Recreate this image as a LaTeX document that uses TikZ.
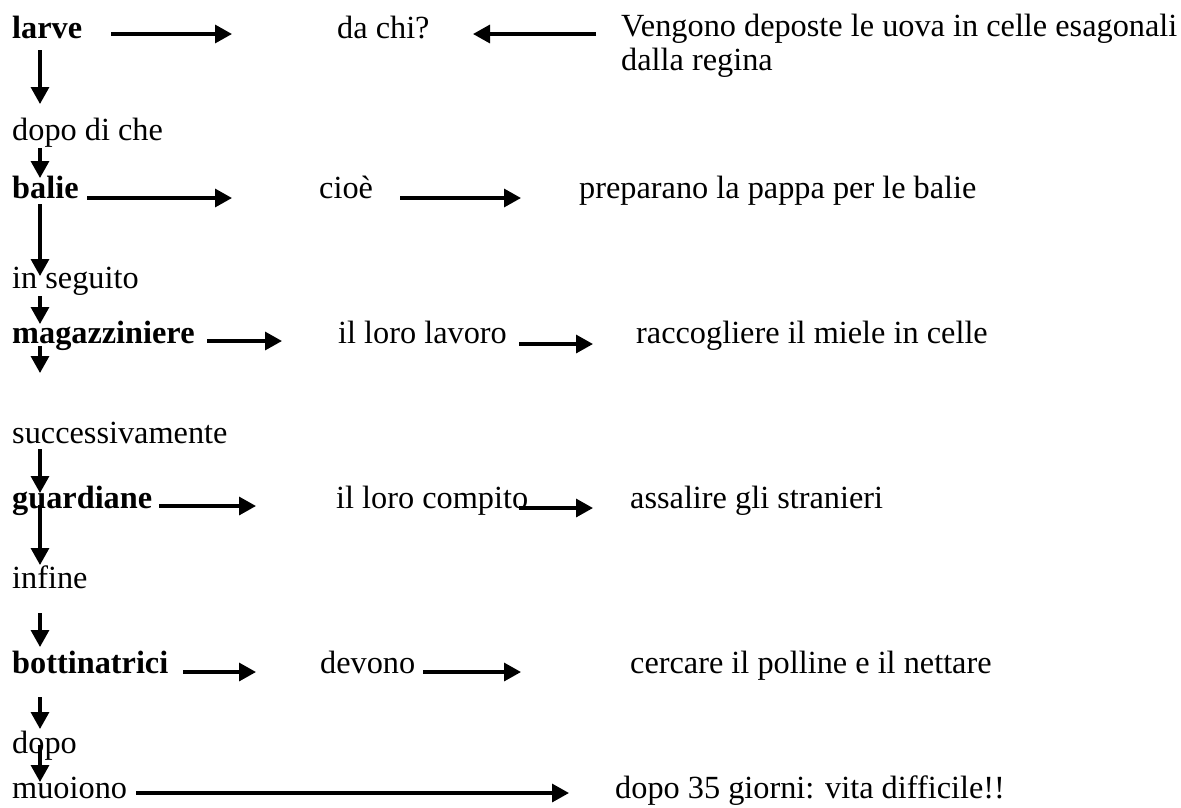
\documentclass[tikz,border=0pt]{standalone}
\usepackage{fontspec}
\setmainfont{Liberation Serif}
\usetikzlibrary{arrows.meta}
\tikzset{
  txt/.style={anchor=base west, inner sep=0pt, font=\fontsize{32.3}{37}\selectfont},
  btxt/.style={txt, font=\fontsize{32.3}{37}\selectfont\bfseries},
  arr/.style={line width=3.3pt, -{Triangle[length=17pt,width=18pt]}},
}
\begin{document}
\begin{tikzpicture}[x=1pt,y=-1pt]
\useasboundingbox (0,0) rectangle (1181,807);
% texts
\node[btxt] (larve) at (12,38) {larve};
\node[txt] (dachi) at (337,38) {da chi?};
\node[txt] (vengono) at (621,36) {Vengono deposte le uova in celle esagonali};
\node[txt] (regina) at (621,70) {dalla regina};
\node[txt] (dopodiche) at (12,140) {dopo di che};
\node[btxt] (balie) at (12,198) {balie};
\node[txt] (cioe) at (319,198) {cioè};
\node[txt] (pappa) at (579,198) {preparano la pappa per le balie};
\node[txt] (seguito) at (12,288) {in seguito};
\node[btxt] (magazz) at (12,343) {magazziniere};
\node[txt] (lavoro) at (338,343) {il loro lavoro};
\node[txt] (miele) at (636,343) {raccogliere il miele in celle};
\node[txt] (success) at (12,443) {successivamente};
\node[btxt] (guard) at (12,508) {guardiane};
\node[txt] (compito) at (336,508) {il loro compito};
\node[txt] (assalire) at (630,508) {assalire gli stranieri};
\node[txt] (infine) at (12,588) {infine};
\node[btxt] (bottin) at (12,673) {bottinatrici};
\node[txt] (devono) at (320,673) {devono};
\node[txt] (cercare) at (630,673) {cercare il polline e il nettare};
\node[txt] (dopo) at (12,753) {dopo};
\node[txt] (muoiono) at (12,798) {muoiono};
\node[txt] (giorni) at (615,798) {dopo 35 giorni: vita difficile!!};
% arrow end points
\coordinate (a1s) at (111,34); \coordinate (a1e) at (232,34);
\coordinate (a2s) at (596,34); \coordinate (a2e) at (473,34);
\coordinate (d1s) at (40,50); \coordinate (d1e) at (40,104);
\coordinate (d2s) at (40,148); \coordinate (d2e) at (40,178);
\coordinate (b1s) at (87,198); \coordinate (b1e) at (232,198);
\coordinate (b2s) at (400,198); \coordinate (b2e) at (521,198);
\coordinate (d3s) at (40,204); \coordinate (d3e) at (40,276);
\coordinate (d4s) at (40,296); \coordinate (d4e) at (40,324);
\coordinate (d5s) at (40,346); \coordinate (d5e) at (40,373);
\coordinate (d6s) at (40,449); \coordinate (d6e) at (40,493);
\coordinate (m1s) at (207,341); \coordinate (m1e) at (282,341);
\coordinate (m2s) at (519,344); \coordinate (m2e) at (593,344);
\coordinate (g1s) at (159,506); \coordinate (g1e) at (256,506);
\coordinate (g2s) at (519,508); \coordinate (g2e) at (593,508);
\coordinate (d7s) at (40,505); \coordinate (d7e) at (40,565);
\coordinate (d8s) at (40,613); \coordinate (d8e) at (40,647);
\coordinate (t1s) at (183,672); \coordinate (t1e) at (256,672);
\coordinate (t2s) at (423,672); \coordinate (t2e) at (521,672);
\coordinate (d9s) at (40,697); \coordinate (d9e) at (40,729);
\coordinate (d10s) at (40,745); \coordinate (d10e) at (40,782);
\coordinate (u1s) at (136,793); \coordinate (u1e) at (569,793);
% arrows
\foreach \a in {a1,a2,d1,d2,b1,b2,d3,d4,m1,m2,d5,d6,g1,g2,d7,d8,t1,t2,d9,d10,u1}
  \draw[arr] (\a s) -- (\a e);
\end{tikzpicture}
\end{document}
